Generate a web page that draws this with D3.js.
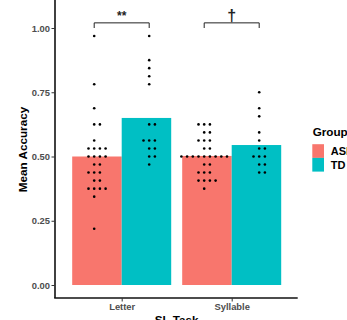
<!DOCTYPE html>
<html><head><meta charset="utf-8">
<script src="https://cdn.jsdelivr.net/npm/d3@7"></script>
<style>body{margin:0;background:#fff}svg{display:block;font-family:"Liberation Sans",Arial,sans-serif}</style>
</head><body>
<svg id="chart" width="347" height="320"></svg>
<script>
const tasks = ["Letter", "Syllable"];
const groups = ["ASD", "TD"];
const groupColors = ["#F8766D", "#00BFC4"];
const yTicks = [0, 0.25, 0.5, 0.75, 1.0];
const letterASD = [0.96875, 0.78125, 0.6875, 0.625, 0.625, 0.5625,
  0.53125, 0.53125, 0.53125, 0.53125, 0.5, 0.5, 0.5, 0.5,
  0.46875, 0.46875, 0.4375, 0.4375, 0.4375, 0.40625, 0.40625,
  0.375, 0.375, 0.375, 0.375, 0.34375, 0.21875];
const letterTD = [0.96875, 0.875, 0.84375, 0.8125, 0.78125, 0.625, 0.625,
  0.5625, 0.5625, 0.5625, 0.53125, 0.53125, 0.5, 0.5, 0.46875];
const syllableASD = [0.625, 0.625, 0.625, 0.59375, 0.59375, 0.5625, 0.5625, 0.5625,
  0.53125, 0.53125, 0.5, 0.5, 0.5, 0.5, 0.5, 0.5, 0.5, 0.5, 0.5,
  0.46875, 0.46875, 0.4375, 0.4375, 0.4375, 0.40625, 0.40625, 0.40625, 0.40625, 0.375];
const syllableTD = [0.75, 0.6875, 0.65625, 0.59375, 0.5625, 0.53125, 0.53125,
  0.5, 0.5, 0.5, 0.46875, 0.46875, 0.4375, 0.4375];
const significance = ["**", "\u2020"];

const series = [
  {task: "Letter", group: "ASD", values: letterASD},
  {task: "Letter", group: "TD", values: letterTD},
  {task: "Syllable", group: "ASD", values: syllableASD},
  {task: "Syllable", group: "TD", values: syllableTD}
];

const svg = d3.select("#chart");
const panelL = 55.7, panelR = 297.7, panelB = 298;
const x = d3.scalePoint().domain(tasks).range([panelL, panelR]).padding(0.6);
const step = x.step();
const xg = d3.scaleBand().domain(groups).range([-0.45 * step, 0.45 * step]);
const dotDodge = d3.scalePoint().domain(groups).range([-0.25 * step, 0.25 * step]);
const y = d3.scaleLinear().domain([0, 1]).range([285, 28]);
const color = d3.scaleOrdinal().domain(groups).range(groupColors);

// bars
svg.append("g").selectAll("rect").data(series).join("rect")
  .attr("x", d => x(d.task) + xg(d.group))
  .attr("width", xg.bandwidth())
  .attr("y", d => y(d3.mean(d.values)))
  .attr("height", d => y(0) - y(d3.mean(d.values)))
  .attr("fill", d => color(d.group));

// dots (centerwhole stacking)
const dotGap = 5.7;
const dots = [];
series.forEach(s => {
  const bins = d3.rollup(s.values, v => v.length, v => v);
  bins.forEach((n, v) => {
    const off = Math.floor((n - 1) / 2);
    for (let i = 0; i < n; i++) {
      dots.push({cx: x(s.task) + dotDodge(s.group) + (i - off) * dotGap, v});
    }
  });
});
svg.append("g").selectAll("circle").data(dots).join("circle")
  .attr("cx", d => d.cx).attr("cy", d => y(d.v)).attr("r", 1.3).attr("fill", "#000");

// significance brackets
const br = svg.append("g");
tasks.forEach((t, i) => {
  const x1 = x(t) + dotDodge("ASD"), x2 = x(t) + dotDodge("TD");
  br.append("path")
    .attr("d", `M${x1},${y(1.0)}V${y(1.02)}H${x2}V${y(1.0)}`)
    .attr("fill", "none").attr("stroke", "#222").attr("stroke-width", 1);
  br.append("text").attr("x", (x1 + x2) / 2).attr("y", i === 0 ? y(1.02) - 3 : y(1.02) - 1.5)
    .attr("text-anchor", "middle")
    .attr("font-size", i === 0 ? 12 : 16).attr("font-weight", "bold").attr("fill", "#222")
    .text(significance[i]);
});

// axes
const yAxis = svg.append("g").attr("transform", `translate(${panelL - 0.7},0)`)
  .call(d3.axisLeft(y).tickValues(yTicks).tickFormat(d3.format(".2f")).tickSize(3.5).tickPadding(1.5));
yAxis.select(".domain").attr("d", `M0,0V${panelB}`).attr("stroke", "#111").attr("stroke-width", 1.6);
const xAxis = svg.append("g").attr("transform", `translate(0,${panelB})`)
  .call(d3.axisBottom(x).tickSize(3.5).tickPadding(2));
xAxis.select(".domain").attr("d", `M${panelL - 1.5},0H${panelR}`).attr("stroke", "#111").attr("stroke-width", 1.6);
svg.selectAll(".tick line").attr("stroke", "#333").attr("stroke-width", 1);
svg.selectAll(".tick text").attr("font-size", 9.4).attr("font-weight", "bold").attr("fill", "#4d4d4d")
  .attr("font-family", "Liberation Sans, Arial, sans-serif");

// axis titles
svg.append("text").attr("transform", `translate(27,149.5) rotate(-90)`)
  .attr("text-anchor", "middle").attr("font-size", 11.7).attr("font-weight", "bold").text("Mean Accuracy");
svg.append("text").attr("x", (panelL + panelR) / 2).attr("y", 324)
  .attr("text-anchor", "middle").attr("font-size", 11.7).attr("font-weight", "bold").text("SL Task");

// legend
const lg = svg.append("g").attr("transform", "translate(312.3,0)");
lg.append("text").attr("x", 0.4).attr("y", 136).attr("font-size", 11.7).attr("font-weight", "bold").text("Group");
groups.forEach((g, i) => {
  lg.append("rect").attr("x", 0).attr("y", 144.2 + i * 13.7).attr("width", 11.7).attr("height", 13.7)
    .attr("fill", color(g));
  lg.append("text").attr("x", 18.4).attr("y", 155.2 + i * 13.9).attr("font-size", 11)
    .attr("font-weight", "bold").text(g);
});
</script>
</body></html>
